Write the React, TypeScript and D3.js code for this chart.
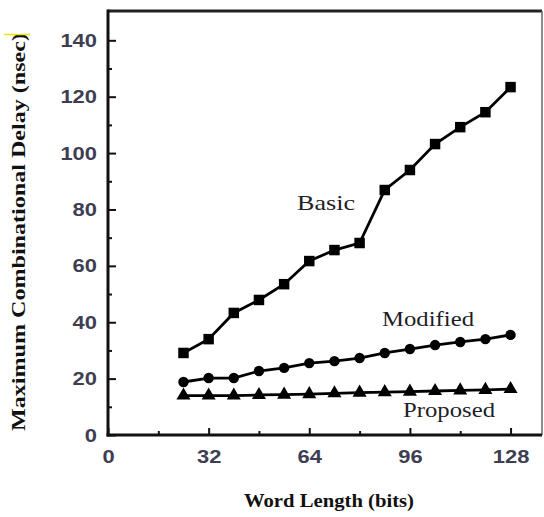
import React, { useEffect, useRef } from 'react';
import * as d3 from 'd3';

// word length (bits)
const wordLength = [24, 32, 40, 48, 56, 64, 72, 80, 88, 96, 104, 112, 120, 128];
// max combinational delay (nsec)
const basic = [29.1, 34.0, 43.3, 47.9, 53.5, 61.7, 65.6, 68.1, 86.9, 94.0, 103.2, 109.2, 114.5, 123.4];
const modified = [18.8, 20.2, 20.2, 22.7, 23.8, 25.5, 26.2, 27.3, 29.1, 30.5, 31.9, 33.0, 34.0, 35.5];
const proposed = [14.0, 14.0, 14.0, 14.2, 14.3, 14.5, 14.8, 15.0, 15.2, 15.4, 15.6, 15.8, 16.0, 16.3];

const xTicks = [0, 32, 64, 96, 128];
const xMinor = [16, 48, 80, 112];
const yTicks = [0, 20, 40, 60, 80, 100, 120, 140];
const yMinor = [10, 30, 50, 70, 90, 110, 130];

const seriesNames = ['Basic', 'Modified', 'Proposed'];

const W = 544;
const H = 517;

const App = () => {
  const ref = useRef<SVGSVGElement | null>(null);

  useEffect(() => {
    const margin = { top: 11, right: 2, bottom: 82, left: 108 };
    const width = W - margin.left - margin.right;
    const height = H - margin.top - margin.bottom;

    const svg = d3.select(ref.current);
    svg.selectAll('*').remove();

    const g = svg.append('g').attr('transform', `translate(${margin.left},${margin.top})`);

    const x = d3.scaleLinear().domain([0, 138]).range([0, width]);
    const y = d3.scaleLinear().domain([0, 150.4]).range([height, 0]);

    const tickFont = (sel: any) => {
      sel.selectAll('text')
        .style('font-family', '"Liberation Sans", Arial, sans-serif')
        .style('font-size', '19px')
        .style('font-weight', 'bold')
        .attr('fill', '#3d3e52')
        .attr('textLength', (d: number) => String(d).length * 12.2)
        .attr('lengthAdjust', 'spacingAndGlyphs');
      sel.select('.domain').remove();
      sel.selectAll('line').attr('stroke', '#111').attr('stroke-width', 2);
    };

    // x axis major + minor
    g.append('g')
      .attr('transform', `translate(0,${height})`)
      .call(d3.axisBottom(x).tickValues(xTicks).tickSize(-7).tickPadding(15).tickFormat(d3.format('d')))
      .call(tickFont);
    g.append('g')
      .attr('transform', `translate(0,${height})`)
      .call(d3.axisBottom(x).tickValues(xMinor).tickSize(-4).tickFormat(() => ''))
      .call(tickFont);

    // y axis major + minor
    g.append('g')
      .call(d3.axisLeft(y).tickValues(yTicks).tickSize(-8).tickPadding(11).tickFormat(d3.format('d')))
      .call(tickFont);
    g.append('g')
      .call(d3.axisLeft(y).tickValues(yMinor).tickSize(-4).tickFormat(() => ''))
      .call(tickFont);

    // frame
    g.append('line').attr('x1', 0).attr('x2', width).attr('y1', 0).attr('y2', 0)
      .attr('stroke', '#222').attr('stroke-width', 3);
    g.append('line').attr('x1', width).attr('x2', width).attr('y1', 0).attr('y2', height)
      .attr('stroke', '#666').attr('stroke-width', 1.5);
    g.append('line').attr('x1', 0).attr('x2', 0).attr('y1', -1.5).attr('y2', height + 1.5)
      .attr('stroke', '#111').attr('stroke-width', 3);
    g.append('line').attr('x1', -1.5).attr('x2', width).attr('y1', height).attr('y2', height)
      .attr('stroke', '#111').attr('stroke-width', 3);

    const line = d3.line<[number, number]>()
      .x((d) => x(d[0]))
      .y((d) => y(d[1]));

    const series = [
      { values: basic, symbol: d3.symbolSquare, size: 110 },
      { values: modified, symbol: d3.symbolCircle, size: 85 },
      { values: proposed, symbol: d3.symbolTriangle, size: 85 },
    ];

    series.forEach((s) => {
      const pts: [number, number][] = wordLength.map((w, i) => [w, s.values[i]]);
      g.append('path')
        .datum(pts)
        .attr('d', line)
        .attr('fill', 'none')
        .attr('stroke', '#000')
        .attr('stroke-width', 2.8);
      g.selectAll(null)
        .data(pts)
        .enter()
        .append('path')
        .attr('d', d3.symbol().type(s.symbol).size(s.size))
        .attr('transform', (d) => `translate(${x(d[0])},${y(d[1])})`)
        .attr('fill', '#000');
    });

    // series labels
    const labelPos = [
      { x: 297, y: 210, len: 58 },
      { x: 382, y: 326, len: 92 },
      { x: 403, y: 417, len: 92 },
    ];
    seriesNames.forEach((name, i) => {
      svg.append('text')
        .text(name)
        .attr('x', labelPos[i].x)
        .attr('y', labelPos[i].y)
        .attr('textLength', labelPos[i].len)
        .attr('lengthAdjust', 'spacingAndGlyphs')
        .style('font-family', '"Liberation Serif", "Times New Roman", serif')
        .style('font-size', '22px')
        .attr('fill', '#1e1e28');
    });

    // axis titles
    svg.append('text')
      .text('Word Length (bits)')
      .attr('x', 329)
      .attr('y', 507)
      .attr('text-anchor', 'middle')
      .attr('textLength', 170)
      .attr('lengthAdjust', 'spacingAndGlyphs')
      .style('font-family', '"Liberation Serif", "Times New Roman", serif')
      .style('font-size', '19px')
      .style('font-weight', 'bold')
      .attr('fill', '#111');

    svg.append('text')
      .text('Maximum Combinational Delay (nsec)')
      .attr('transform', 'translate(25,232) rotate(-90)')
      .attr('text-anchor', 'middle')
      .attr('textLength', 398)
      .attr('lengthAdjust', 'spacingAndGlyphs')
      .style('font-family', '"Liberation Serif", "Times New Roman", serif')
      .style('font-size', '19px')
      .style('font-weight', 'bold')
      .attr('fill', '#111');

    // small yellow mark at the top-left of the scan
    svg.append('line').attr('x1', 4).attr('x2', 30).attr('y1', 34.5).attr('y2', 34.5)
      .attr('stroke', '#f2e600').attr('stroke-width', 1.5);
  }, []);

  return (
    <div style={{ background: '#fff' }}>
      <svg ref={ref} width={W} height={H} style={{ position: 'absolute', left: 0, top: 0, background: '#fff' }} />
    </div>
  );
};

export default App;
